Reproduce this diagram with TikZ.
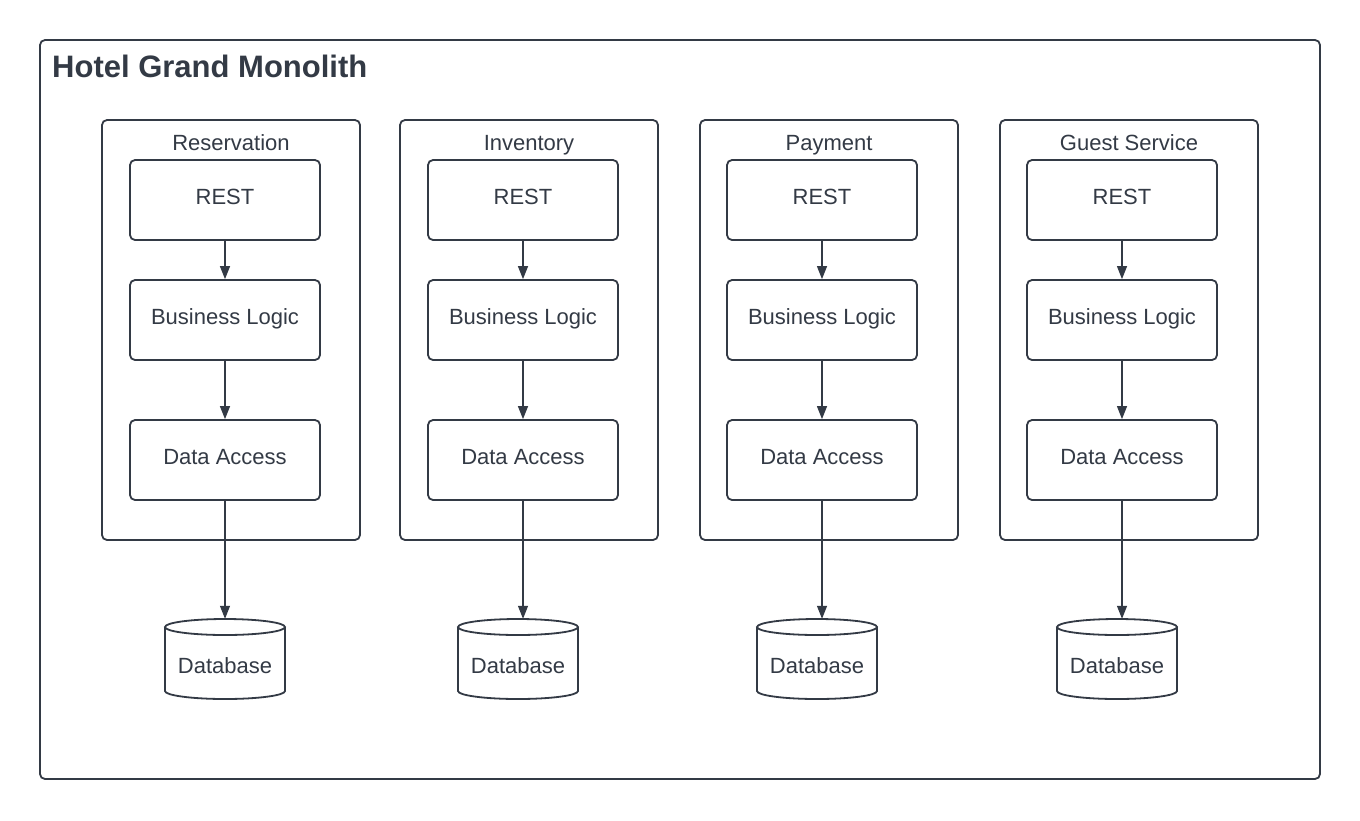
\documentclass[tikz,border=0pt]{standalone}
\usepackage{fontspec}
\setmainfont{Liberation Sans}
\usetikzlibrary{arrows.meta}
\definecolor{ink}{HTML}{333A45}
\begin{document}
\begin{tikzpicture}[x=1pt,y=-1pt,
 frame/.style={draw=ink, line width=1.8pt, rounded corners=5pt, inner sep=0pt},
 container/.style={frame, minimum width=258pt, minimum height=420pt},
 layer/.style={frame, minimum width=190pt, minimum height=80pt, text height=8pt, text depth=0pt, font=\fontsize{22}{25}\selectfont, text=ink},
 lab/.style={font=\fontsize{22}{25}\selectfont, text=ink, inner sep=0pt, anchor=base},
 dbnode/.style={minimum width=120pt, minimum height=80pt, inner sep=0pt},
 cyl/.style={draw=ink, line width=1.8pt},
 flow/.style={draw=ink, line width=1.2pt, -{Triangle[length=13pt,width=10pt]}},
]
\useasboundingbox (0,0) rectangle (1360,820);
\fill[white] (0,0) rectangle (1360,820);
\node (outer) [frame, minimum width=1280pt, minimum height=739pt] at (680,409.5) {};
\node (title) [anchor=base west, inner sep=0pt, font=\bfseries\fontsize{31}{35}\selectfont, text=ink] at (52,77) {Hotel Grand Monolith};
\foreach \i/\cx/\ix/\dx/\nm in {1/231/225/225/Reservation, 2/529/523/518/Inventory, 3/829/822/817/Payment, 4/1129/1122/1117/Guest Service} {
  \node (c\i) [container] at (\cx,330) {};
  \node (t\i) [lab] at (\cx,150) {\nm};
  \node (r\i) [layer] at (\ix,200) {REST};
  \node (b\i) [layer] at (\ix,320) {Business Logic};
  \node (d\i) [layer] at (\ix,460) {Data Access};
  \node (db\i) [dbnode] at (\dx,659) {};
  \draw[cyl] (\dx-60,627) -- (\dx-60,691) arc[start angle=180, end angle=0, x radius=60, y radius=8] -- (\dx+60,627);
  \draw[cyl] (\dx,627) ellipse [x radius=60, y radius=8];
  \node (dbt\i) [lab] at (\dx,673) {Database};
  \draw[flow] (r\i) -- (b\i);
  \draw[flow] (b\i) -- (d\i);
  \draw[flow] (d\i.south) -- (d\i.south |- db\i.north);
}
\end{tikzpicture}
\end{document}
